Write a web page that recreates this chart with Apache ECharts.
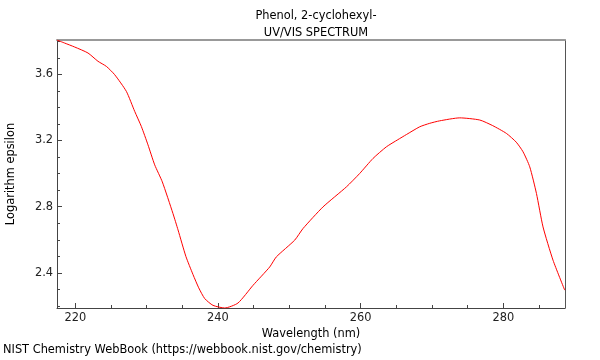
<!DOCTYPE html>
<html>
<head>
<meta charset="utf-8">
<script src="https://cdn.jsdelivr.net/npm/echarts@6/dist/echarts.min.js"></script>
<style>html,body{margin:0;padding:0;background:#fff}#c{width:600px;height:360px}</style>
</head>
<body>
<div id="c"></div>
<script>
const wavelengths = [217.44,218.51,219.92,221.78,223.18,224.36,225.52,227.16,228.33,229.26,230.19,231.13,232.2,233.69,234.4,235.5,236.5,237.3,238.14,239.3,240.94,242.8,244.91,247.25,248.18,250.75,251.91,254.72,258.0,259.86,261.73,263.6,265.2,266.4,268.27,269.67,271.07,273.88,276.68,278.5,280.42,281.8,282.75,283.69,284.63,285.55,286.95,288.59];
const logEpsilon = [3.807,3.789,3.765,3.729,3.679,3.648,3.598,3.497,3.376,3.285,3.174,3.053,2.95,2.759,2.66,2.5,2.39,2.31,2.245,2.204,2.188,2.218,2.325,2.436,2.497,2.598,2.668,2.799,2.92,3.001,3.092,3.162,3.205,3.236,3.283,3.304,3.319,3.337,3.324,3.29,3.243,3.19,3.132,3.041,2.88,2.678,2.477,2.296];
const xLabels = [220,240,260,280];
const xMinorTicks = [220,225,230,235,240,245,250,255,260,265,270,275,280,285];
const yLabels = [2.4,2.8,3.2,3.6];
const yMinorTicks = [2.2,2.3,2.4,2.5,2.6,2.7,2.8,2.9,3.0,3.1,3.2,3.3,3.4,3.5,3.6,3.7,3.8];

const XMIN = 217.44, XMAX = 288.63, YMIN = 2.188, YMAX = 3.8075;
const FONT = 'DejaVu Sans';
const FS = 11.4;
const chart = echarts.init(document.getElementById('c'), null, {renderer: 'canvas'});
const pts = wavelengths.map((w, i) => [w, logEpsilon[i]]);
chart.setOption({
  animation: false,
  backgroundColor: '#fff',
  textStyle: {fontFamily: FONT},
  title: {
    text: 'Phenol, 2-cyclohexyl-\nUV/VIS SPECTRUM',
    left: 311, top: 3, textAlign: 'center',
    textStyle: {fontFamily: FONT, fontSize: FS, fontWeight: 'normal', color: '#000', lineHeight: 17}
  },
  graphic: [{
    type: 'text', left: 3, top: 345,
    style: {text: 'NIST Chemistry WebBook (https://webbook.nist.gov/chemistry)', fontFamily: FONT, fontSize: FS, fill: '#000'}
  }],
  grid: {left: 57, right: 35, top: 40, bottom: 52, outerBoundsMode: 'none', containLabel: false},
  xAxis: [
    {type: 'value', min: XMIN, max: XMAX, position: 'bottom',
     name: 'Wavelength (nm)', nameLocation: 'middle', nameGap: 16,
     nameTextStyle: {fontFamily: FONT, fontSize: FS, color: '#000'},
     axisLine: {show: true, lineStyle: {color: '#444', width: 1}},
     axisTick: {show: true, inside: true, length: 5, customValues: xLabels, lineStyle: {color: '#444'}},
     axisLabel: {customValues: xLabels, fontFamily: FONT, fontSize: FS, color: '#222', margin: 5},
     splitLine: {show: false}},
    {type: 'value', min: XMIN, max: XMAX, position: 'bottom',
     axisLine: {show: false},
     axisTick: {show: true, inside: true, length: 3, customValues: xMinorTicks, lineStyle: {color: '#444'}},
     axisLabel: {show: false}, splitLine: {show: false}},
    {type: 'value', min: XMIN, max: XMAX, position: 'top',
     axisLine: {show: true, lineStyle: {color: '#999', width: 2}},
     axisTick: {show: false}, axisLabel: {show: false}, splitLine: {show: false}}
  ],
  yAxis: [
    {type: 'value', min: YMIN, max: YMAX, position: 'left',
     name: 'Logarithm epsilon', nameLocation: 'middle', nameGap: 40,
     nameTextStyle: {fontFamily: FONT, fontSize: FS, color: '#000'},
     axisLine: {show: true, lineStyle: {color: '#444', width: 1}},
     axisTick: {show: true, inside: true, length: 5, customValues: yLabels, lineStyle: {color: '#444'}},
     axisLabel: {customValues: yLabels, fontFamily: FONT, fontSize: FS, color: '#222', margin: 4,
                 formatter: v => v.toFixed(1)},
     splitLine: {show: false}},
    {type: 'value', min: YMIN, max: YMAX, position: 'left',
     axisLine: {show: false},
     axisTick: {show: true, inside: true, length: 3, customValues: yMinorTicks, lineStyle: {color: '#444'}},
     axisLabel: {show: false}, splitLine: {show: false}},
    {type: 'value', min: YMIN, max: YMAX, position: 'right',
     axisLine: {show: true, lineStyle: {color: '#555', width: 1}},
     axisTick: {show: false}, axisLabel: {show: false}, splitLine: {show: false}}
  ],
  series: [{
    type: 'line', xAxisIndex: 0, yAxisIndex: 0, data: pts,
    showSymbol: false, symbol: 'none', smooth: 0.2, clip: true,
    lineStyle: {color: '#ff0000', width: 1}
  }]
});
</script>
</body>
</html>
